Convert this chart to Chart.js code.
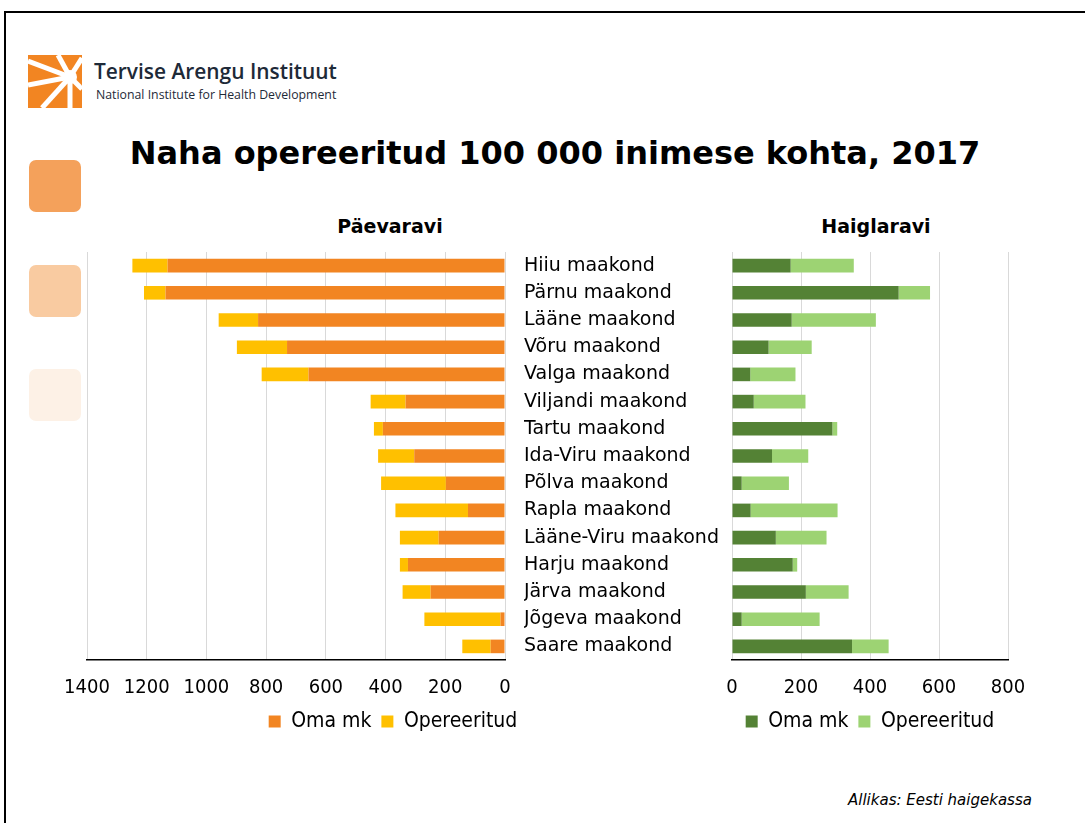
<!DOCTYPE html>
<html lang="et">
<head>
<meta charset="UTF-8">
<title>Naha opereeritud 100 000 inimese kohta, 2017</title>
<script src="https://cdn.jsdelivr.net/npm/chart.js"></script>
<style>
  body { margin: 0; width: 1085px; height: 823px; background: #fff; position: relative; overflow: hidden; font-family: 'DejaVu Sans', sans-serif; }
  .frame { position: absolute; left: 4px; top: 11px; width: 1100px; height: 900px; border-top: 2px solid #000; border-left: 2px solid #000; }
  .sq { position: absolute; left: 29px; width: 52px; height: 52px; border-radius: 7px; }
  .abs { position: absolute; white-space: nowrap; }
  canvas { position: absolute; top: 240px; }
</style>
</head>
<body>
<div class="frame"></div>

<svg class="abs" style="left:28px;top:55px" width="54" height="53" viewBox="0 0 54 53">
  <rect x="0" y="0" width="54" height="53" fill="#f28522"/>
  <g stroke="#fff" stroke-width="5" stroke-linecap="butt">
    <line x1="42" y1="22" x2="0" y2="6"/>
    <line x1="42" y1="22" x2="30" y2="0"/>
    <line x1="42" y1="22" x2="54" y2="3"/>
    <line x1="42" y1="22" x2="54" y2="34"/>
    <line x1="42" y1="22" x2="0" y2="30"/>
    <line x1="42" y1="22" x2="14" y2="53"/>
    <line x1="42" y1="22" x2="42" y2="53"/>
  </g>
  <circle cx="42" cy="22" r="7" fill="#fff"/>
</svg>
<div class="abs" style="left:94px;top:57px;font-family:'Open Sans';font-weight:600;font-size:20.9px;color:#1e2a38;">Tervise Arengu Instituut</div>
<div class="abs" style="left:96px;top:86px;font-family:'Open Sans';font-size:12.3px;color:#1e2a38;">National Institute for Health Development</div>

<div class="abs" style="left:0;width:1110px;top:134px;text-align:center;font-weight:bold;font-size:32px;color:#000;">Naha opereeritud 100 000 inimese kohta, 2017</div>

<div class="sq" style="top:160px;background:#f4a15b;"></div>
<div class="sq" style="top:265px;background:#f9cba1;"></div>
<div class="sq" style="top:369px;background:#fdf1e6;"></div>

<div class="abs" style="left:290px;width:200px;top:215px;text-align:center;font-weight:bold;font-size:19px;">Päevaravi</div>
<div class="abs" style="left:776px;width:200px;top:215px;text-align:center;font-weight:bold;font-size:19px;">Haiglaravi</div>

<canvas id="paevaravi" width="699" height="502" style="left:0"></canvas>
<canvas id="haiglaravi" width="575" height="502" style="left:510px"></canvas>

<div class="abs" style="left:848px;top:791px;font-style:italic;font-size:15px;color:#000;">Allikas: Eesti haigekassa</div>

<script>
const categories = ['Hiiu maakond', 'Pärnu maakond', 'Lääne maakond', 'Võru maakond', 'Valga maakond',
  'Viljandi maakond', 'Tartu maakond', 'Ida-Viru maakond', 'Põlva maakond', 'Rapla maakond',
  'Lääne-Viru maakond', 'Harju maakond', 'Järva maakond', 'Jõgeva maakond', 'Saare maakond'];

// Päevaravi
const paevOma = [1130, 1137, 827, 730, 658, 333, 409, 304, 198, 124, 222, 325, 249, 15, 48];
const paevOper = [118, 72, 132, 168, 157, 117, 30, 121, 217, 243, 130, 27, 94, 255, 95];

// Haiglaravi
const haigOma = [170, 483, 173, 106, 53, 63, 291, 116, 28, 54, 127, 176, 214, 28, 348];
const haigOper = [183, 91, 244, 125, 131, 150, 14, 105, 137, 252, 147, 13, 124, 226, 106];

const seriesNames = ['Oma mk', 'Opereeritud'];

const tickFont = { family: "'Liberation Sans Narrow', 'DejaVu Sans Condensed', sans-serif", size: 20 };
const legendFont = { family: "'Liberation Sans Narrow', 'DejaVu Sans Condensed', sans-serif", size: 21 };
const catFont = { family: "'DejaVu Sans', sans-serif", size: 19 };

function xScale(max, reverse) {
  return {
    stacked: true,
    reverse: reverse,
    min: 0,
    max: max,
    ticks: { stepSize: 200, font: tickFont, color: '#000', padding: 16, maxRotation: 0, format: { useGrouping: false } },
    grid: { color: '#d9d9d9', drawTicks: false },
    border: { color: '#000', width: 1.5 },
    afterFit: s => { s.height -= 15; }
  };
}

function legendOpts(fullSize) {
  return {
    position: 'bottom',
    fullSize: fullSize,
    labels: { boxWidth: 12, boxHeight: 12, font: legendFont, color: '#000', padding: 10 }
  };
}

new Chart(document.getElementById('paevaravi'), {
  type: 'bar',
  data: {
    labels: categories,
    datasets: [
      { label: seriesNames[0], data: paevOma, backgroundColor: '#f28522', barPercentage: 0.5, categoryPercentage: 1 },
      { label: seriesNames[1], data: paevOper, backgroundColor: '#ffc000', barPercentage: 0.5, categoryPercentage: 1 }
    ]
  },
  options: {
    indexAxis: 'y',
    responsive: false,
    animation: false,
    layout: { padding: { left: 87, top: 12, right: 0, bottom: 0 } },
    scales: {
      x: xScale(1400, true),
      y: {
        stacked: true,
        position: 'right',
        ticks: { display: false },
        grid: { display: false, drawTicks: false },
        border: { display: false },
        afterFit: s => { s.width = 194; }
      }
    },
    plugins: { legend: legendOpts(true), tooltip: { enabled: false } }
  }
});

new Chart(document.getElementById('haiglaravi'), {
  type: 'bar',
  data: {
    labels: categories,
    datasets: [
      { label: seriesNames[0], data: haigOma, backgroundColor: '#548235', barPercentage: 0.5, categoryPercentage: 1 },
      { label: seriesNames[1], data: haigOper, backgroundColor: '#9dd373', barPercentage: 0.5, categoryPercentage: 1 }
    ]
  },
  options: {
    indexAxis: 'y',
    responsive: false,
    animation: false,
    layout: { padding: { left: 14, top: 12, right: 77, bottom: 0 } },
    scales: {
      x: xScale(800, false),
      y: {
        stacked: true,
        position: 'left',
        ticks: { crossAlign: 'far', font: catFont, color: '#000', autoSkip: false, padding: 0 },
        grid: { display: false, drawTicks: false },
        border: { display: false },
        afterFit: s => { s.width = 208; }
      }
    },
    plugins: { legend: legendOpts(false), tooltip: { enabled: false } }
  }
});
</script>
</body>
</html>
